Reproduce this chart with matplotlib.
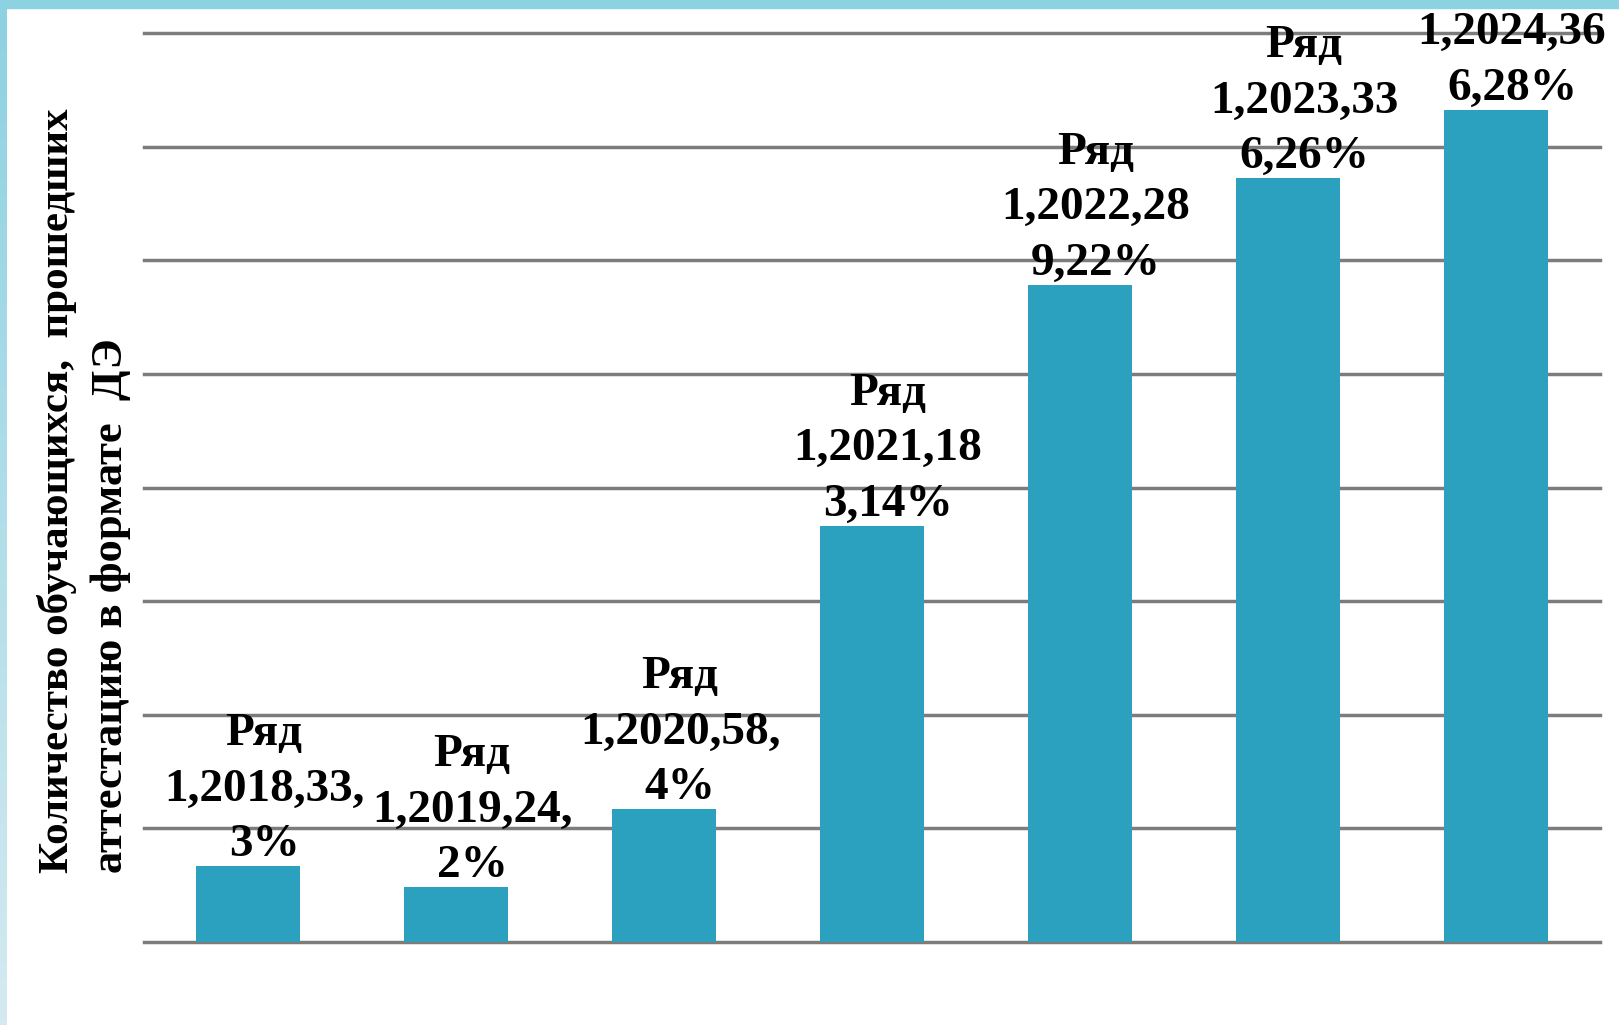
import numpy as np
import matplotlib.pyplot as plt
from matplotlib.patches import Rectangle

# данные
years = ['2018', '2019', '2020', '2021', '2022', '2023', '2024']
values = [33.3, 24.2, 58.4, 183.14, 289.22, 336.26, 366.28]
labels = ['Ряд\n1,2018,33,\n3%', 'Ряд\n1,2019,24,\n2%', 'Ряд\n1,2020,58,\n4%',
          'Ряд\n1,2021,18\n3,14%', 'Ряд\n1,2022,28\n9,22%', 'Ряд\n1,2023,33\n6,26%',
          'Ряд\n1,2024,36\n6,28%']
ylabel1 = 'Количество обучающихся,  прошедших'
ylabel2 = 'аттестацию в формате  ДЭ'

plt.rcParams['font.family'] = ['Liberation Serif', 'DejaVu Serif']

W, H = 1619, 1025
fig = plt.figure(figsize=(W/100, H/100), dpi=100)
fig.patch.set_facecolor('white')

# рамка слайда
fig.patches.append(Rectangle((0, 1 - 8/H), 1, 8/H, transform=fig.transFigure,
                             color='#8DD2E1', zorder=0))
gax = fig.add_axes([0, 0, 6/W, 1 - 8/H])
grad = np.linspace(0, 1, 256).reshape(-1, 1)
c1 = np.array([0x8D, 0xD2, 0xE1]) / 255
c2 = np.array([0xD4, 0xEA, 0xF0]) / 255
gax.imshow(c1 + (c2 - c1) * grad[:, :, None], aspect='auto')
gax.axis('off')

ax = fig.add_axes([144/W, 1 - 942/H, (1600-144)/W, (942-33)/H])
x = np.arange(len(years))
ax.bar(x, values, width=0.5, color='#2BA1BF', zorder=3)
ax.set_xlim(-0.5, len(years) - 0.5)
ax.set_ylim(0, 400)
ax.set_yticks(np.arange(0, 401, 50))
ax.yaxis.grid(True, color='#7c7c7c', linewidth=2.5, zorder=1)
ax.tick_params(left=False, bottom=False, labelleft=False, labelbottom=False)
for s in ax.spines.values():
    s.set_visible(False)
for gl in ax.get_ygridlines():
    gl.set_clip_on(False)

for xi, v, lab in zip(x, values, labels):
    ax.annotate(lab, (xi, v), xytext=(16, 0), textcoords='offset pixels',
                ha='center', va='bottom', fontsize=34, fontweight='bold',
                linespacing=1.42, zorder=5, annotation_clip=False)

fig.text(57/W, 1 - 873/H, ylabel1, rotation=90, ha='center', va='bottom',
         fontsize=31, fontweight='bold')
fig.text(111/W, 1 - 873/H, ylabel2, rotation=90, ha='center', va='bottom',
         fontsize=32, fontweight='bold')

fig.savefig('out.png', dpi=100)
